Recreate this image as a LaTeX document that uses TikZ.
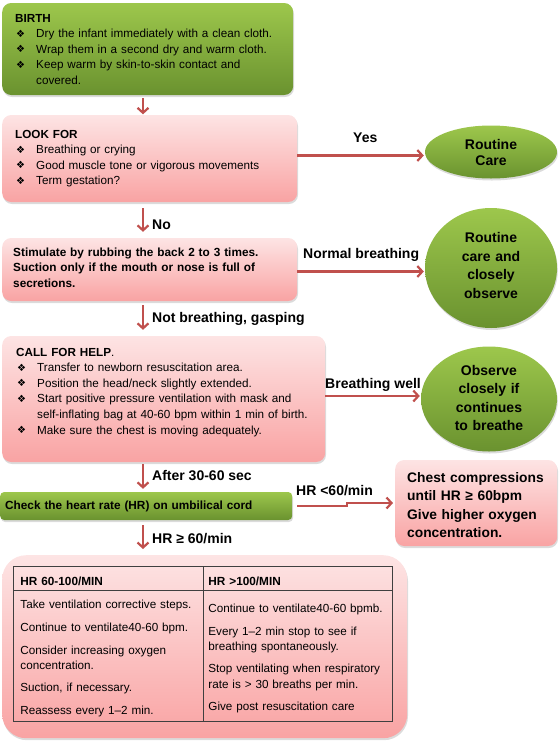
\documentclass[tikz,border=0pt]{standalone}
\usepackage{fontspec}
\setmainfont{Liberation Sans}
\newfontfamily\symfont{DejaVu Sans}
\usetikzlibrary{shapes.geometric,arrows.meta,shadows}
\definecolor{grtop}{HTML}{9DC74C}
\definecolor{grbot}{HTML}{6A922F}
\definecolor{pktop}{HTML}{FDE4E4}
\definecolor{pkbot}{HTML}{F9A3A3}
\definecolor{arrred}{HTML}{C0504D}
\definecolor{tblgray}{HTML}{3F3F3F}
\newcommand\bodytxt{\fontsize{11.7}{15.6}\selectfont}
\newcommand\bul{\hspace*{1pt}\makebox[20pt][l]{\raisebox{0.3pt}{\symfont\fontsize{10}{10}\selectfont ❖}}}
\newcommand\bind{\hspace*{21pt}}

\begin{document}
\begin{tikzpicture}[x=1pt,y=-1pt,
    box/.style={rounded corners=9pt, anchor=base west, inner ysep=0pt, align=left, font=\bodytxt,
      drop shadow={shadow xshift=0.8pt, shadow yshift=-2pt, opacity=0.35, fill=black!40}},
    greenbox/.style={box, top color=grtop, bottom color=grbot},
    pinkbox/.style={box, top color=pktop, bottom color=pkbot},
    oval/.style={ellipse, inner sep=0pt, top color=grtop, bottom color=grbot, align=center,
      text width=90pt, text height=0pt, font=\fontsize{14}{18.6}\selectfont\bfseries,
      drop shadow={shadow xshift=0.8pt, shadow yshift=-2pt, opacity=0.35, fill=black!40}},
    arr/.style={draw=arrred, line width=2.2pt, -{Straight Barb[length=5pt,width=11pt]},
      shorten <=4pt, shorten >=5pt},
    lbl/.style={anchor=base west, inner sep=0pt, font=\fontsize{14}{16}\selectfont\bfseries},
    cell/.style={draw=tblgray, line width=0.8pt, anchor=base west, inner ysep=0pt, align=left, font=\bodytxt}]
  \useasboundingbox (0,0) rectangle (558,745);
  \coordinate (spine) at (143,0);

  \node[greenbox, inner xsep=13pt, text width=265pt, text height=19pt, text depth=73pt] (birth) at (2,22)
    {\textbf{BIRTH}\\
     \bul Dry the infant immediately with a clean cloth.\\
     \bul Wrap them in a second dry and warm cloth.\\
     \bul Keep warm by skin-to-skin contact and\\
     \bind covered.};
  \node[pinkbox, inner xsep=13pt, text width=269pt, text height=23pt, text depth=64pt] (look) at (2,138)
    {\textbf{LOOK FOR}\\
     \bul Breathing or crying\\
     \bul Good muscle tone or vigorous movements\\
     \bul Term gestation?};
  \node[pinkbox, inner xsep=11pt, text width=273pt, text height=18pt, text depth=45pt,
    font=\fontsize{11.8}{15.8}\selectfont\bfseries] (stim) at (2,256)
    {Stimulate by rubbing the back 2 to 3 times.\\
     Suction only if the mouth or nose is full of\\
     secretions.};
  \node[pinkbox, inner xsep=14pt, text width=295pt, text height=20pt, text depth=106pt] (help) at (2,356)
    {\textbf{CALL FOR HELP}.\\
     \bul Transfer to newborn resuscitation area.\\
     \bul Position the head/neck slightly extended.\\
     \bul Start positive pressure ventilation with mask and\\
     \bind self-inflating bag at 40-60 bpm within 1 min of birth.\\
     \bul Make sure the chest is moving adequately.};
  \node[greenbox, rounded corners=4pt, inner xsep=5pt, text width=282pt, text height=17pt, text depth=11pt,
    font=\fontsize{11.8}{14}\selectfont\bfseries] (check) at (0,509)
    {Check the heart rate (HR) on umbilical cord};
  \node[pinkbox, inner xsep=12pt, text width=138pt, text height=22pt, text depth=64pt,
    font=\fontsize{13.8}{18.6}\selectfont\bfseries] (chest) at (395,482)
    {Chest compressions\\
     until HR ≥ 60bpm\\
     Give higher oxygen\\
     concentration.};
  \node[pinkbox, rounded corners=24pt, anchor=north west, minimum width=405pt, minimum height=183pt] (hrbox) at (2,555) {};

  \node[cell, inner xsep=7.3pt, text width=175.4pt, text height=19.7pt, text depth=4.3pt,
    font=\fontsize{11.8}{15.6}\selectfont\bfseries] (headl) at (12.7,585.7) {HR 60-100/MIN};
  \node[cell, inner xsep=5.3pt, text width=178.4pt, text height=19.7pt, text depth=4.3pt,
    font=\fontsize{11.8}{15.6}\selectfont\bfseries] (headr) at (202.7,585.7) {HR >100/MIN};
  \node[cell, inner xsep=7.3pt, text width=175.4pt, text height=18.3pt, text depth=112.7pt] (coll) at (12.7,608.3)
    {Take ventilation corrective steps.\\[7.1pt]
     Continue to ventilate40-60 bpm.\\[7.7pt]
     Consider increasing oxygen\\
     concentration.\\[6.1pt]
     Suction, if necessary.\\[7.7pt]
     Reassess every 1–2 min.};
  \node[cell, inner xsep=5.3pt, text width=178.4pt, text height=22.3pt, text depth=108.7pt] (colr) at (202.7,612.3)
    {Continue to ventilate40-60 bpmb.\\[7.1pt]
     Every 1–2 min stop to see if\\
     breathing spontaneously.\\[6.7pt]
     Stop ventilating when respiratory\\
     rate is > 30 breaths per min.\\[6.4pt]
     Give post resuscitation care};

  \node[oval, minimum width=132pt, minimum height=53pt, text depth=5.4pt,
    font=\fontsize{14}{16}\selectfont\bfseries] (care) at (491,152) {Routine\\Care};
  \node[oval, minimum width=132pt, minimum height=120pt, text depth=50.6pt] (watch) at (491,268)
    {Routine\\care and\\closely\\observe};
  \node[oval, minimum width=136pt, minimum height=105pt, text depth=48pt] (observe) at (489,399)
    {Observe\\closely if\\continues\\to breathe};

  \coordinate (yes0) at ([yshift=3pt]look.east);
  \coordinate (norm0) at ([yshift=-2pt]stim.east);
  \coordinate (well0) at ([yshift=3pt]help.east);

  \draw[arr, shorten <=3pt, shorten >=0.5pt] (birth.south -| spine) -- (look.north -| spine);
  \draw[arr, shorten <=6pt, shorten >=6pt] (look.south -| spine) -- (stim.north -| spine);
  \draw[arr, shorten >=6pt] (stim.south -| spine) -- (help.north -| spine);
  \draw[arr, shorten <=2pt, shorten >=3pt] (help.south -| spine) -- (check.north -| spine);
  \draw[arr, shorten <=5pt, shorten >=6pt] (check.south -| spine) -- (hrbox.north -| spine);
  \draw[arr, shorten <=0pt, shorten >=1pt] (yes0) -- (yes0 -| care.west);
  \draw[arr, shorten <=0pt, shorten >=1pt] (norm0) -- (norm0 -| watch.west);
  \draw[arr, shorten <=0pt, shorten >=1pt] (well0) -- (well0 -| observe.west);
  \draw[arr, shorten <=4.7pt, shorten >=2pt] (check.east) -- ++(54.7,0) |- (chest.west);

  \node[lbl] (yes) at (353,142) {Yes};
  \node[lbl] (normal) at (303,258) {Normal breathing};
  \node[lbl] (well) at (325,388) {Breathing well};
  \node[lbl] (hrlow) at (296,495) {HR <60/min};
  \node[lbl] (no) at (152,229) {No};
  \node[lbl] (gasp) at (152,322) {Not breathing, gasping};
  \node[lbl] (after) at (152,480) {After 30-60 sec};
  \node[lbl] (hrok) at (152,543) {HR ≥ 60/min};
\end{tikzpicture}
\end{document}
